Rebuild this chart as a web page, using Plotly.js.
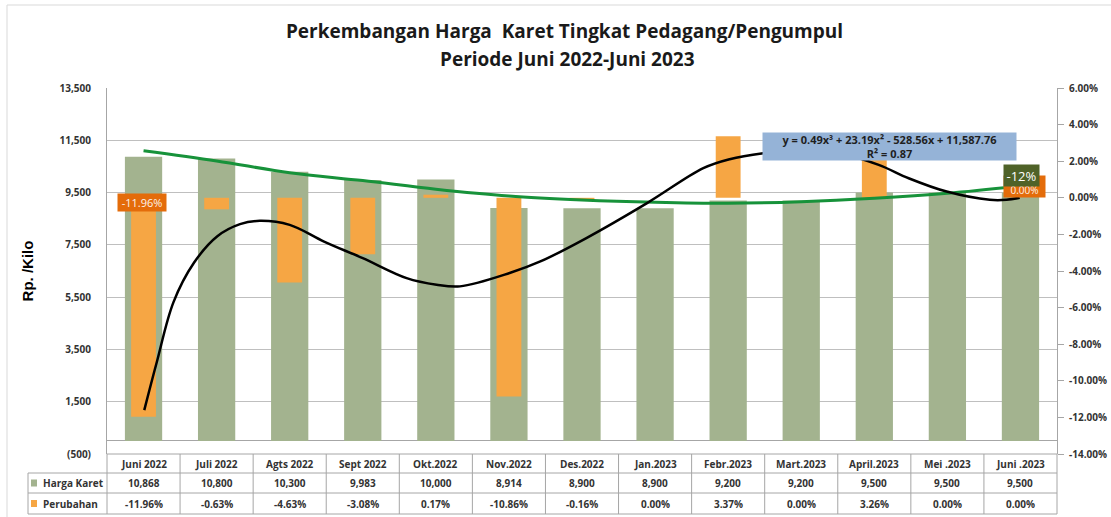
<!DOCTYPE html>
<html>
<head>
<meta charset="utf-8">
<script src="https://cdn.plot.ly/plotly-3.0.1.min.js"></script>
<style>
  html, body { margin: 0; padding: 0; background: #ffffff; }
  #chart { width: 1111px; height: 517px; }
</style>
</head>
<body>
<div id="chart"></div>
<script>
// ---------------- DATA ----------------
const categories = ["Juni 2022", "Juli 2022", "Agts 2022", "Sept 2022", "Okt.2022", "Nov.2022",
  "Des.2022", "Jan.2023", "Febr.2023", "Mart.2023", "April.2023", "Mei .2023", "Juni .2023"];
const hargaKaret = [10868, 10800, 10300, 9983, 10000, 8914, 8900, 8900, 9200, 9200, 9500, 9500, 9500];
const perubahan = [-11.96, -0.63, -4.63, -3.08, 0.17, -10.86, -0.16, 0.00, 3.37, 0.00, 3.26, 0.00, 0.00];

// polynomial trend of Harga Karet at each month
const trendHarga = [11100, 10710, 10260, 9960, 9630, 9370, 9220, 9130, 9090, 9150, 9280, 9470, 9750];

// polynomial trend of Perubahan (%) (x = month index)
const trendPerubahanX = [0.01, 0.18, 0.41, 0.69, 1.01, 1.32, 1.59, 2.0, 2.47, 3.0, 3.6, 4.01, 4.33,
  5.01, 5.43, 6.06, 6.89, 7.66, 8.02, 8.48, 8.9, 9.5, 10.06, 10.47, 10.99, 11.58, 11.81, 11.99];
const trendPerubahanY = [-11.6, -9.0, -5.7, -3.55, -2.1, -1.44, -1.26, -1.48, -2.39, -3.3, -4.39, -4.75, -4.84,
  -4.11, -3.48, -2.2, -0.29, 1.62, 2.11, 2.44, 2.6, 2.45, 1.8, 1.07, 0.34, -0.11, -0.11, 0.0];

const leftTickVals = [-500, 1500, 3500, 5500, 7500, 9500, 11500, 13500];
const leftTickText = ["(500)", "1,500", "3,500", "5,500", "7,500", "9,500", "11,500", "13,500"];
const rightTickVals = [-14, -12, -10, -8, -6, -4, -2, 0, 2, 4, 6];
const rightTickText = ["-14.00%", "-12.00%", "-10.00%", "-8.00%", "-6.00%", "-4.00%", "-2.00%",
  "0.00%", "2.00%", "4.00%", "6.00%"];

const seriesNames = ["Harga Karet", "Perubahan"];
const trendEquation = "y = 0.49x³ + 23.19x² - 528.56x + 11,587.76<br>R² = 0.87";
const perubahanTahunan = "-12%";
const titleLine1 = "Perkembangan Harga  Karet Tingkat Pedagang/Pengumpul";
const titleLine2 = "Periode Juni 2022-Juni 2023";

// ---------------- STYLE ----------------
const FONT = "'Open Sans', 'Noto Sans', sans-serif";
const GREEN_BAR = "#a3b38f";
const ORANGE_BAR = "#f6a644";
const GRID = "#bfbfbf";
const BORDER = "#a6a6a6";
const TXT = "#333333";

const idx = categories.map((_, i) => i);
const fmtNum = v => v.toLocaleString("en-US");
const fmtPct = v => v.toFixed(2) + "%";

// plot area in px: left 107, right 1057, top 88, bottom 454
const L = 107, R = 1057, T = 88, B = 454;
const PW = R - L, PH = B - T;
const px2paperX = x => (x - L) / PW;
const px2paperY = y => (B - y) / PH;

const traces = [
  { type: "bar", name: seriesNames[0], x: idx, y: hargaKaret, width: 0.51,
    marker: { color: GREEN_BAR }, xaxis: "x", yaxis: "y", hoverinfo: "skip" },
  { type: "bar", name: seriesNames[1], x: idx, y: perubahan, width: 0.34,
    marker: { color: ORANGE_BAR }, xaxis: "x", yaxis: "y2", hoverinfo: "skip" },
  { type: "scatter", mode: "lines", x: idx, y: trendHarga,
    line: { color: "#17923a", width: 3, shape: "spline" }, xaxis: "x", yaxis: "y3", hoverinfo: "skip" },
  { type: "scatter", mode: "lines", x: trendPerubahanX, y: trendPerubahanY,
    line: { color: "#000000", width: 2.5, shape: "spline" }, xaxis: "x", yaxis: "y4", hoverinfo: "skip" }
];

// ---------------- TABLE ----------------
const rowY = { top: px2paperY(454), h1: px2paperY(473), h2: px2paperY(493), h3: px2paperY(514) };
const shapes = [];
const annotations = [];
const n = categories.length;
const ann = o => annotations.push(Object.assign({ showarrow: false, xanchor: "center", yanchor: "middle" }, o));

// horizontal borders
shapes.push({ type: "line", xref: "paper", yref: "paper", x0: 0, x1: 1, y0: rowY.top, y1: rowY.top, line: { color: BORDER, width: 1 } });
[rowY.h1, rowY.h2, rowY.h3].forEach(y => shapes.push({ type: "line", xref: "paper", yref: "paper",
  x0: px2paperX(28), x1: 1, y0: y, y1: y, line: { color: BORDER, width: 1 } }));
// vertical borders
for (let k = 0; k <= n; k++) {
  shapes.push({ type: "line", xref: "x domain", yref: "paper", x0: k / n, x1: k / n,
    y0: rowY.top, y1: rowY.h3, line: { color: BORDER, width: 1 } });
}
shapes.push({ type: "line", xref: "paper", yref: "paper", x0: px2paperX(28), x1: px2paperX(28),
  y0: rowY.h1, y1: rowY.h3, line: { color: BORDER, width: 1 } });
// legend keys
[[GREEN_BAR, 483], [ORANGE_BAR, 503.5]].forEach(([c, yc]) => shapes.push({ type: "rect", xref: "paper", yref: "paper",
  x0: px2paperX(31), x1: px2paperX(37), y0: px2paperY(yc + 3.5), y1: px2paperY(yc - 3.5),
  fillcolor: c, line: { width: 0 } }));
// outer frame
shapes.push({ type: "line", xref: "paper", yref: "paper", x0: px2paperX(7), x1: px2paperX(1111), y0: px2paperY(5), y1: px2paperY(5), line: { color: "#d9d9d9", width: 1 } });
shapes.push({ type: "line", xref: "paper", yref: "paper", x0: px2paperX(7), x1: px2paperX(7), y0: px2paperY(5), y1: px2paperY(517), line: { color: "#d9d9d9", width: 1 } });

const cellFont = { family: FONT, size: 10, color: TXT, weight: "bold" };
categories.forEach((c, i) => {
  ann({ xref: "x", yref: "paper", x: i, y: px2paperY(463.5), text: c, font: cellFont });
  ann({ xref: "x", yref: "paper", x: i, y: px2paperY(483), text: fmtNum(hargaKaret[i]), font: cellFont });
  ann({ xref: "x", yref: "paper", x: i, y: px2paperY(503.5), text: fmtPct(perubahan[i]), font: cellFont });
});
ann({ xref: "paper", yref: "paper", x: px2paperX(41), y: px2paperY(483), xanchor: "left", text: seriesNames[0], font: cellFont });
ann({ xref: "paper", yref: "paper", x: px2paperX(41), y: px2paperY(503.5), xanchor: "left", text: seriesNames[1], font: cellFont });

// title line 2
ann({ xref: "paper", yref: "paper", x: px2paperX(567), y: px2paperY(59), text: titleLine2,
  font: { family: FONT, size: 19, color: "#1a1a1a", weight: "bold" } });

// data labels
ann({ xref: "x", yref: "y2", x: idx[0], y: 0, yshift: -4.5, xshift: -1.5, text: fmtPct(perubahan[0]),
  width: 48, height: 17, bgcolor: "#e46c0a", borderpad: 0,
  font: { family: FONT, size: 11, color: "#fdf3ea" } });
ann({ xref: "x", yref: "y2", x: idx[n - 1], y: 0, yshift: 11.5, xshift: 4.5, text: fmtPct(perubahan[n - 1]),
  width: 41, height: 21, bgcolor: "#e46c0a", borderpad: 0, valign: "bottom",
  font: { family: FONT, size: 10, color: "#fdf3ea" } });
ann({ xref: "x", yref: "y2", x: idx[n - 1], y: 0, yshift: 22, xshift: 1.5, text: perubahanTahunan,
  width: 35, height: 21, bgcolor: "#4f6228", borderpad: 0,
  font: { family: FONT, size: 13, color: "#ffffff" } });
// trendline equation
ann({ xref: "paper", yref: "paper", x: px2paperX(889.5), y: px2paperY(146.5), text: trendEquation,
  width: 253, height: 27, bgcolor: "#95b3d7", borderpad: 0,
  font: { family: FONT, size: 11, color: "#1f1f1f", weight: "bold" } });

const layout = {
  width: 1111, height: 517,
  margin: { l: L, r: 1111 - R, t: T, b: 517 - B, pad: 0 },
  paper_bgcolor: "#ffffff", plot_bgcolor: "#ffffff",
  showlegend: false,
  barmode: "overlay",
  title: { text: titleLine1, xref: "container", yref: "container", x: 564.5 / 1111, y: 1 - 31 / 517,
    xanchor: "center", yanchor: "middle",
    font: { family: FONT, size: 19, color: "#1a1a1a", weight: "bold" } },
  xaxis: { type: "linear", range: [-0.5, n - 0.5], showticklabels: false, showgrid: false, zeroline: false,
    showline: false, fixedrange: true },
  yaxis: { range: [-500, 13500], tickvals: leftTickVals, ticktext: leftTickText, showgrid: true,
    gridcolor: GRID, gridwidth: 1, zeroline: true, zerolinecolor: "#a6a6a6", zerolinewidth: 1,
    showline: true, linecolor: BORDER, linewidth: 1, ticks: "", ticklabelstandoff: 13,
    tickfont: { family: FONT, size: 10, color: TXT, weight: "bold" },
    title: { text: "Rp. /Kilo", standoff: 22, font: { family: "'Liberation Sans', Arial, sans-serif", size: 15, color: "#000000", weight: "bold" } } },
  yaxis2: { overlaying: "y", side: "right", range: [-14, 6], tickvals: rightTickVals, ticktext: rightTickText,
    showgrid: false, zeroline: false, showline: true, linecolor: BORDER, linewidth: 1,
    ticks: "outside", ticklen: 6, tickcolor: BORDER, ticklabelstandoff: 3,
    tickfont: { family: FONT, size: 10, color: TXT, weight: "bold" } },
  yaxis3: { overlaying: "y", range: [-500, 13500], visible: false },
  yaxis4: { overlaying: "y", range: [-14, 6], visible: false },
  shapes: shapes,
  annotations: annotations
};

Plotly.newPlot("chart", traces, layout, { staticPlot: true, displayModeBar: false });
</script>
</body>
</html>
